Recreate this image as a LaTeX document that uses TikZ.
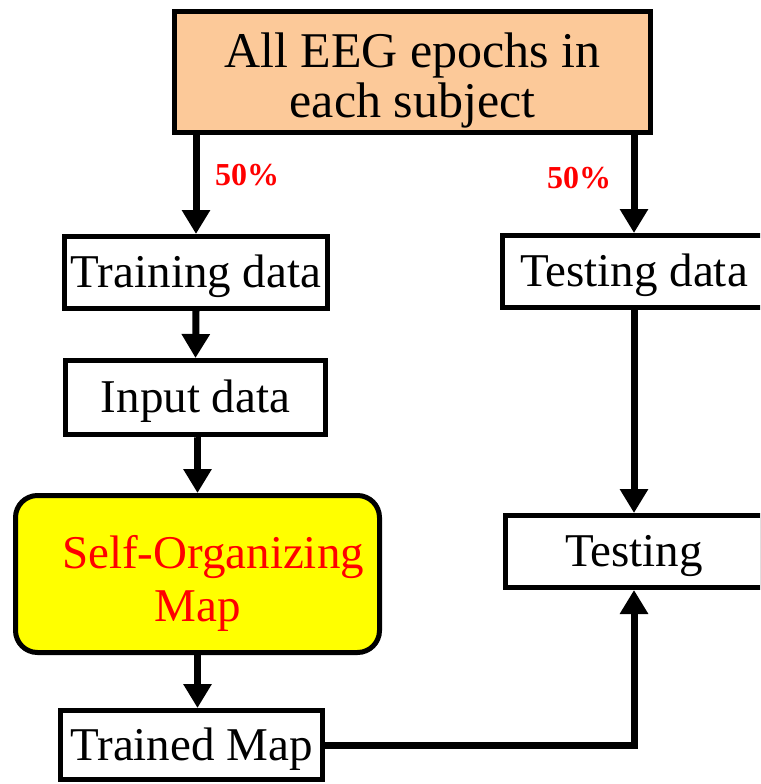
\documentclass[tikz,border=0pt]{standalone}
\usepackage{fontspec}
\setmainfont{Liberation Serif}
\usetikzlibrary{arrows.meta,calc}

\definecolor{peach}{RGB}{252,201,153}
\definecolor{somyellow}{RGB}{255,255,0}
\definecolor{labred}{RGB}{255,0,0}

\tikzset{
  box/.style={draw=black, line width=5pt, fill=white, inner sep=0pt,
    font=\fontsize{47}{50}\selectfont, text height=34pt, text depth=4pt},
  multibox/.style={draw=black, line width=5pt, inner sep=0pt},
  flow/.style={line width=7pt, -{Triangle[width=27pt,length=24pt]}},
  pct/.style={text=labred, font=\fontsize{32}{34}\selectfont\bfseries,
    anchor=base west, inner sep=0pt}
}

\begin{document}
\begin{tikzpicture}[x=1pt,y=-1pt]
  \useasboundingbox (0,0) rectangle (760,784);
  \clip (0,0) rectangle (760,784);

  % source box
  \node[multibox, fill=peach, minimum width=476pt, minimum height=121pt,
        font=\fontsize{50}{50}\selectfont] (all) at (412.5,72)
        {\raisebox{-17pt}[0pt][0pt]{\begin{tabular}{@{}c@{}}All EEG epochs in\\each subject\end{tabular}}};

  % data boxes
  \node[box, minimum width=263pt, minimum height=72pt] (train) at (196,272.5) {Training data};
  \node[box, minimum width=263pt, minimum height=72pt] (tdata) at (634,271.5) {Testing data};
  \node[box, minimum width=260pt, minimum height=74pt] (input) at (195.5,397.5) {Input data};

  % SOM block
  \node[multibox, fill=somyellow, rounded corners=22pt, minimum width=364pt, minimum height=157pt,
        text=labred, font=\fontsize{47}{53}\selectfont] (som) at (197.5,574)
        {\raisebox{-17pt}[0pt][0pt]{\begin{tabular}{@{}c@{}}\hspace*{31pt}Self-Organizing\\Map\end{tabular}}};

  \node[box, minimum width=257pt, minimum height=72pt] (test) at (634,551.5) {Testing};
  \node[box, minimum width=262pt, minimum height=69pt] (trained) at (191.5,745) {Trained Map};

  % split labels
  \node[pct] (pl) at (215,185) {50\%};
  \node[pct] (pr) at (547,188) {50\%};

  % connectors
  \draw[flow] (train.north |- all.south) -- (train.north);
  \draw[flow] (tdata.north |- all.south) -- (tdata.north);
  \draw[flow] (train.south) -- (input.north);
  \draw[flow] (input.south) -- (som.north |- input.south) -- (som.north);
  \draw[flow] (som.south) -- (trained.north -| som.south);
  \draw[flow] (tdata.south) -- (test.north);
  \draw[flow] (trained.east) -| (test.south);
\end{tikzpicture}
\end{document}
